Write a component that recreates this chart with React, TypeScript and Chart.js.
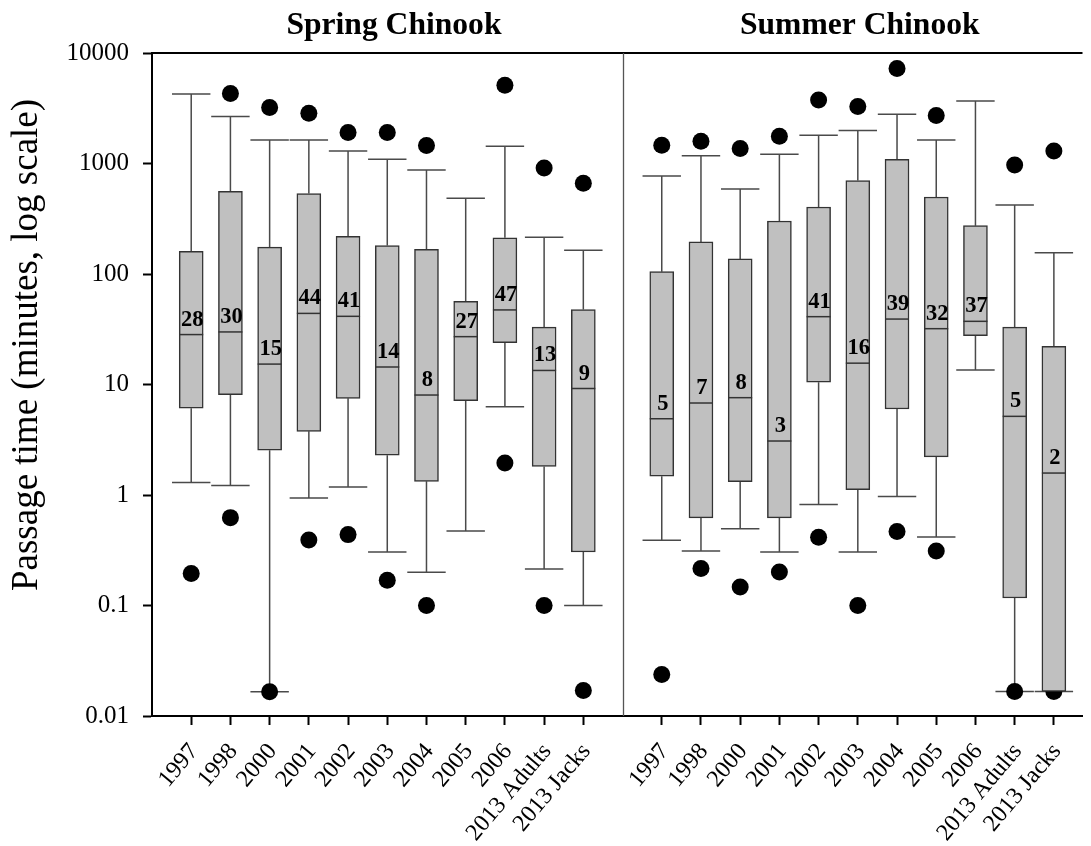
import { useEffect, useRef } from 'react';
import { Chart, registerables } from 'chart.js';

Chart.register(...registerables);

// Run categories (same for both runs)
const categories = ['1997', '1998', '2000', '2001', '2002', '2003', '2004', '2005', '2006', '2013 Adults', '2013 Jacks'];

// Spring Chinook passage time summaries (minutes)
const springLowDot = [0.195, 0.624, 0.0166, 0.392, 0.438, 0.169, 0.1, null, 1.95, 0.1, 0.017];
const springWhiskerLow = [1.3, 1.22, 0.0166, 0.94, 1.18, 0.305, 0.2, 0.472, 6.3, 0.214, 0.1];
const springQ1 = [6.1, 8.1, 2.54, 3.77, 7.5, 2.29, 1.33, 7.15, 23.9, 1.81, 0.305];
const springMedian = [28.3, 29.9, 15.3, 44, 41.4, 14.4, 8.03, 27.1, 47.3, 13.4, 9.2];
const springQ3 = [160, 560, 175, 534, 219, 181, 167, 56.6, 213, 33, 47.6];
const springWhiskerHigh = [4256, 2657, 1632, 1632, 1298, 1091, 874, 484, 1431, 215, 164];
const springHighDot = [null, 4300, 3206, 2846, 1905, 1905, 1452, null, 5100, 910, 662];

// Summer Chinook passage time summaries (minutes)
const summerLowDot = [0.0237, 0.216, 0.147, 0.201, 0.414, 0.1, 0.467, 0.311, null, 0.0167, 0.0167];
const summerWhiskerLow = [0.389, 0.311, 0.496, 0.305, 0.82, 0.305, 0.97, 0.417, 13.5, 0.0167, 0.0167];
const summerQ1 = [1.48, 0.62, 1.32, 0.62, 10.5, 1.12, 6.0, 2.21, 27.7, 0.117, 0.0167];
const summerMedian = [4.9, 6.8, 7.6, 3.08, 41.1, 15.6, 39.1, 32, 37.3, 5.15, 1.58];
const summerQ3 = [105, 195, 137, 302, 404, 700, 1091, 498, 274, 33, 22.2];
const summerWhiskerHigh = [771, 1178, 588, 1211, 1800, 1985, 2788, 1632, 3679, 421, 156];
const summerHighDot = [1460, 1588, 1364, 1762, 3756, 3273, 7228, 2713, null, 969, 1300];

// Axis tick values and panel titles
const yTickValues = [0.01, 0.1, 1, 10, 100, 1000, 10000];
const panelTitles = ['Spring Chinook', 'Summer Chinook'];
const yAxisTitle = 'Passage time (minutes, log scale)';

const SERIF = "'Liberation Serif', 'Times New Roman', Times, serif";
const BOX_FILL = '#c0c0c0';
const BOX_EDGE = '#333333';
const WHISKER = '#4a4a4a';

// x positions: spring runs at 1..11, divider at 12, summer runs at 13..23
const SPRING_START = 1;
const SUMMER_START = 13;
const DIVIDER_X = 12;
const X_MAX = 23.73;
const CAP_HALF = 0.49;

type Stat = { x: number; lo: number; q1: number; med: number; q3: number; hi: number };

function labelFor(v: number): string {
  const idx = v < DIVIDER_X ? v - SPRING_START : v - SUMMER_START;
  return categories[Math.round(idx)] ?? '';
}

export default function App() {
  const canvasRef = useRef<HTMLCanvasElement>(null);

  useEffect(() => {
    const canvas = canvasRef.current;
    if (!canvas) return;

    const groups = [
      { start: SPRING_START, low: springLowDot, wLo: springWhiskerLow, q1: springQ1, med: springMedian, q3: springQ3, wHi: springWhiskerHigh, high: springHighDot },
      { start: SUMMER_START, low: summerLowDot, wLo: summerWhiskerLow, q1: summerQ1, med: summerMedian, q3: summerQ3, wHi: summerWhiskerHigh, high: summerHighDot },
    ];

    const boxes: { x: number; y: [number, number] }[] = [];
    const dots: { x: number; y: number }[] = [];
    const stats: Stat[] = [];
    const tickPositions: number[] = [];

    groups.forEach((g) => {
      categories.forEach((_, i) => {
        const x = g.start + i;
        tickPositions.push(x);
        boxes.push({ x, y: [g.q1[i], g.q3[i]] });
        const lo = g.low[i];
        const hi = g.high[i];
        if (lo != null) dots.push({ x, y: lo });
        if (hi != null) dots.push({ x, y: hi });
        stats.push({ x, lo: g.wLo[i], q1: g.q1[i], med: g.med[i], q3: g.q3[i], hi: g.wHi[i] });
      });
    });

    const boxPlotPlugin = {
      id: 'boxPlotExtras',
      beforeDatasetsDraw(chart: any) {
        const { ctx } = chart;
        const xs = chart.scales.x;
        const ys = chart.scales.y;
        ctx.save();
        ctx.strokeStyle = WHISKER;
        ctx.lineWidth = 1.5;
        stats.forEach((s) => {
          const px = xs.getPixelForValue(s.x);
          const half = xs.getPixelForValue(s.x + CAP_HALF) - px;
          const yLo = ys.getPixelForValue(s.lo);
          const yQ1 = ys.getPixelForValue(s.q1);
          const yQ3 = ys.getPixelForValue(s.q3);
          const yHi = ys.getPixelForValue(s.hi);
          ctx.beginPath();
          ctx.moveTo(px, yQ1);
          ctx.lineTo(px, yLo);
          ctx.moveTo(px - half, yLo);
          ctx.lineTo(px + half, yLo);
          ctx.moveTo(px, yQ3);
          ctx.lineTo(px, yHi);
          ctx.moveTo(px - half, yHi);
          ctx.lineTo(px + half, yHi);
          ctx.stroke();
        });
        ctx.restore();
      },
      afterDatasetsDraw(chart: any) {
        const { ctx } = chart;
        const xs = chart.scales.x;
        const ys = chart.scales.y;
        const barMeta = chart.getDatasetMeta(1);
        ctx.save();
        ctx.strokeStyle = BOX_EDGE;
        ctx.lineWidth = 1.5;
        ctx.fillStyle = '#000';
        ctx.font = `bold 22.5px ${SERIF}`;
        ctx.textAlign = 'center';
        ctx.textBaseline = 'alphabetic';
        stats.forEach((s, i) => {
          const px = xs.getPixelForValue(s.x);
          const bar = barMeta.data[i];
          const halfW = bar ? bar.width / 2 : 12;
          const ym = ys.getPixelForValue(s.med);
          ctx.beginPath();
          ctx.moveTo(px - halfW, ym);
          ctx.lineTo(px + halfW, ym);
          ctx.stroke();
          ctx.fillText(String(Math.round(s.med)), px + 1, ym - 9);
        });
        ctx.restore();
      },
      afterDraw(chart: any) {
        const { ctx, chartArea } = chart;
        const xs = chart.scales.x;
        ctx.save();
        // frame top
        ctx.strokeStyle = '#000';
        ctx.lineWidth = 2;
        ctx.beginPath();
        ctx.moveTo(chartArea.left, chartArea.top);
        ctx.lineTo(chartArea.right, chartArea.top);
        ctx.stroke();
        // panel divider
        const dx = Math.round(xs.getPixelForValue(DIVIDER_X)) + 0.5;
        ctx.strokeStyle = '#555';
        ctx.lineWidth = 1.3;
        ctx.beginPath();
        ctx.moveTo(dx, chartArea.top);
        ctx.lineTo(dx, chartArea.bottom);
        ctx.stroke();
        // panel titles
        ctx.fillStyle = '#000';
        ctx.font = `bold 31.6px ${SERIF}`;
        ctx.textAlign = 'center';
        ctx.textBaseline = 'alphabetic';
        ctx.fillText(panelTitles[0], xs.getPixelForValue(6.17), 34);
        ctx.fillText(panelTitles[1], xs.getPixelForValue(18.05), 34);
        // y-axis title
        ctx.font = `37px ${SERIF}`;
        ctx.textBaseline = 'middle';
        ctx.translate(27, 345);
        ctx.rotate(-Math.PI / 2);
        ctx.fillText(yAxisTitle, 0, 0);
        ctx.restore();
      },
    };

    const chart = new Chart(canvas, {
      type: 'bar',
      data: {
        datasets: [
          {
            type: 'scatter',
            data: dots,
            pointRadius: 8.5,
            pointHoverRadius: 8.5,
            pointBackgroundColor: '#000',
            pointBorderWidth: 0,
            showLine: false,
            order: 2,
          } as any,
          {
            type: 'bar',
            data: boxes as any,
            backgroundColor: BOX_FILL,
            borderColor: BOX_EDGE,
            borderWidth: 1.5,
            borderSkipped: false,
            barThickness: 24,
            order: 1,
          },
        ],
      },
      options: {
        responsive: false,
        animation: false,
        devicePixelRatio: 1,
        layout: { padding: { top: 53, left: 0, right: 0, bottom: 0 } },
        plugins: { legend: { display: false }, tooltip: { enabled: false } },
        events: [],
        scales: {
          x: {
            type: 'linear',
            min: 0,
            max: X_MAX,
            bounds: 'data',
            offset: false,
            afterBuildTicks: (s: any) => {
              s.ticks = tickPositions.map((v) => ({ value: v }));
            },
            afterFit: (s: any) => {
              s.height = 130;
            },
            ticks: {
              autoSkip: false,
              minRotation: 50,
              maxRotation: 50,
              padding: 13,
              labelOffset: 3,
              color: '#000',
              font: { family: SERIF, size: 24 },
              callback: (v: any) => labelFor(Number(v)),
            },
            grid: { drawOnChartArea: false, drawTicks: true, tickLength: 9, tickWidth: 2, tickColor: '#000', offset: false },
            border: { display: true, color: '#000', width: 2 },
          } as any,
          y: {
            type: 'logarithmic',
            min: 0.01,
            max: 10000,
            bounds: 'data',
            afterBuildTicks: (s: any) => {
              s.ticks = yTickValues.map((v) => ({ value: v }));
            },
            afterFit: (s: any) => {
              s.width = 152;
            },
            ticks: {
              autoSkip: false,
              padding: 14,
              color: '#000',
              font: { family: SERIF, size: 25 },
              callback: (v: any) => String(v),
            },
            grid: { drawOnChartArea: false, drawTicks: true, tickLength: 9, tickWidth: 2, tickColor: '#000' },
            border: { display: true, color: '#000', width: 2 },
          } as any,
        },
      },
      plugins: [boxPlotPlugin],
    });

    return () => chart.destroy();
  }, []);

  return (
    <div style={{ position: 'fixed', left: 0, top: 0, width: 1091, height: 846, background: '#fff' }}>
      <canvas ref={canvasRef} width={1091} height={846} style={{ display: 'block' }} />
    </div>
  );
}
